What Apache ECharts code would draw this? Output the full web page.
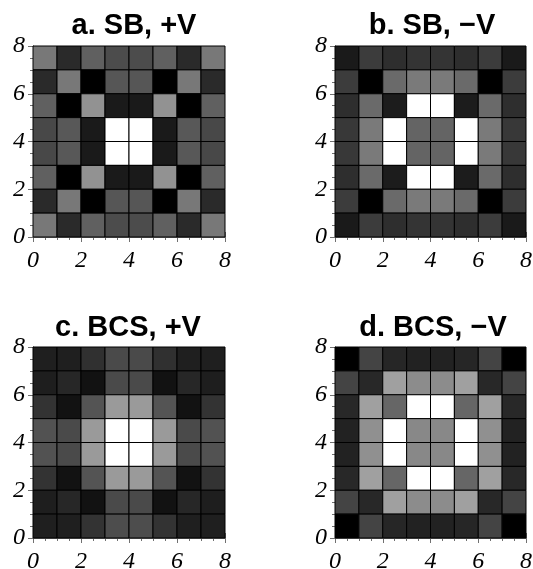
<!DOCTYPE html>
<html><head><meta charset="utf-8">
<script src="https://cdn.jsdelivr.net/npm/echarts@6/dist/echarts.min.js"></script>
<style>html,body{margin:0;padding:0;background:#fff}#c{width:533px;height:569px}</style>
</head><body><div id="c"></div>
<script>
// gray levels (0 = black, 255 = white); rows listed from top (y=7..8) to bottom (y=0..1)
const panelA = [
  [120, 42, 96, 76, 76, 96, 42, 120],
  [42, 120, 0, 86, 86, 0, 120, 42],
  [96, 0, 146, 26, 26, 146, 0, 96],
  [72, 88, 26, 255, 255, 26, 88, 72],
  [72, 88, 26, 255, 255, 26, 88, 72],
  [96, 0, 146, 26, 26, 146, 0, 96],
  [42, 120, 0, 86, 86, 0, 120, 42],
  [120, 42, 96, 76, 76, 96, 42, 120]
];
const panelB = [
  [26, 60, 46, 52, 52, 46, 60, 26],
  [60, 0, 106, 122, 122, 106, 0, 60],
  [46, 106, 28, 255, 255, 28, 106, 46],
  [56, 122, 255, 100, 100, 255, 122, 56],
  [56, 122, 255, 100, 100, 255, 122, 56],
  [46, 106, 28, 255, 255, 28, 106, 46],
  [60, 0, 106, 122, 122, 106, 0, 60],
  [26, 60, 46, 52, 52, 46, 60, 26]
];
const panelC = [
  [31, 31, 48, 74, 74, 48, 31, 31],
  [30, 39, 18, 74, 74, 18, 39, 30],
  [51, 18, 84, 154, 154, 84, 18, 51],
  [82, 74, 154, 255, 255, 154, 74, 82],
  [82, 74, 154, 255, 255, 154, 74, 82],
  [51, 18, 84, 154, 154, 84, 18, 51],
  [30, 39, 18, 74, 74, 18, 39, 30],
  [31, 31, 51, 77, 77, 51, 31, 31]
];
const panelD = [
  [0, 68, 38, 34, 34, 38, 68, 0],
  [68, 40, 160, 140, 140, 160, 40, 68],
  [40, 160, 102, 255, 255, 102, 160, 40],
  [34, 144, 255, 136, 136, 255, 144, 34],
  [34, 144, 255, 136, 136, 255, 144, 34],
  [40, 160, 102, 255, 255, 102, 160, 40],
  [68, 40, 160, 140, 140, 160, 40, 68],
  [0, 68, 38, 34, 34, 38, 68, 0]
];
const titles = ['a. SB, +V', 'b. SB, \u2212V', 'c. BCS, +V', 'd. BCS, \u2212V'];
const tickLabels = ['0', '2', '4', '6', '8'];
const panels = [panelA, panelB, panelC, panelD];

const grids = [
  {left: 33, top: 46, width: 192, height: 191, outerBoundsMode: 'none'},
  {left: 335, top: 46, width: 191, height: 191, outerBoundsMode: 'none'},
  {left: 33, top: 347, width: 192, height: 191, outerBoundsMode: 'none'},
  {left: 335, top: 347, width: 191, height: 191, outerBoundsMode: 'none'}
];
const titlePos = [
  {x: 129, y: 6}, {x: 427, y: 6}, {x: 123, y: 308}, {x: 428, y: 308}
];

function toData(rows) {
  const out = [];
  rows.forEach((row, r) => row.forEach((v, c) => out.push([c, 7 - r, v])));
  return out;
}
function renderItem(params, api) {
  const x = api.value(0), y = api.value(1);
  const p0 = api.coord([x, y + 1]);
  const p1 = api.coord([x + 1, y]);
  return {type: 'rect',
    shape: {x: p0[0], y: p0[1], width: p1[0] - p0[0], height: p1[1] - p0[1]},
    style: {fill: api.visual('color'), stroke: '#000', lineWidth: 1}};
}
const frameColor = '#707070';
function axis(gi, pos, labels) {
  return {
    type: 'value', gridIndex: gi, position: pos, min: 0, max: 8, interval: 2, offset: 3,
    axisLine: {show: true, lineStyle: {color: frameColor, width: 1}},
    axisTick: {show: true, inside: true, length: 5, lineStyle: {color: frameColor}},
    minorTick: {show: true, splitNumber: 4, length: 3, lineStyle: {color: frameColor}},
    splitLine: {show: false},
    axisLabel: {show: labels, margin: (pos === 'bottom' ? 9 : 5),
      formatter: v => tickLabels[v / 2],
      fontFamily: 'Liberation Serif', fontStyle: 'italic', fontSize: 24, color: '#000'}
  };
}
const xAxis = [], yAxis = [], series = [];
grids.forEach((g, i) => {
  xAxis.push(axis(i, 'bottom', true));
  xAxis.push(axis(i, 'top', false));
  yAxis.push(axis(i, 'left', true));
  yAxis.push(axis(i, 'right', false));
  series.push({type: 'custom', xAxisIndex: 2 * i, yAxisIndex: 2 * i,
    renderItem: renderItem, encode: {x: 0, y: 1}, data: toData(panels[i])});
});
const option = {
  animation: false,
  title: titles.map((t, i) => ({text: t, left: titlePos[i].x, top: titlePos[i].y, textAlign: 'center',
    textStyle: {fontFamily: 'Liberation Sans', fontWeight: 'bold', fontSize: 29, color: '#000'}})),
  grid: grids,
  xAxis: xAxis, yAxis: yAxis,
  visualMap: {show: false, type: 'continuous', min: 0, max: 255, dimension: 2,
    seriesIndex: [0, 1, 2, 3], inRange: {color: ['#000000', '#ffffff']}},
  series: series
};
echarts.init(document.getElementById('c')).setOption(option);
</script></body></html>
